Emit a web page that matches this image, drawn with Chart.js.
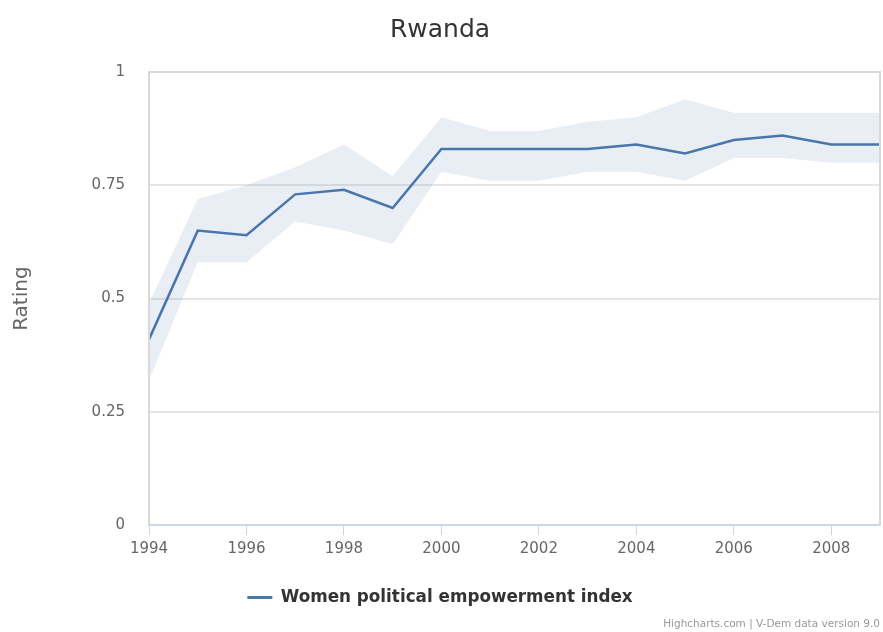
<!DOCTYPE html>
<html lang="en">
<head>
    <meta charset="UTF-8">
    <title>Rwanda - Women political empowerment index</title>
    <script src="https://cdn.jsdelivr.net/npm/chart.js"></script>
    <style>
        html, body {
            margin: 0;
            padding: 0;
            background: #ffffff;
        }
        .wrap {
            position: relative;
            width: 883px;
            height: 632px;
        }
        .credits {
            position: absolute;
            right: 3px;
            bottom: 3px;
            font: 10.5px "DejaVu Sans", sans-serif;
            color: #999999;
        }
    </style>
</head>
<body>
    <div class="wrap">
        <canvas id="chart" width="883" height="632"></canvas>
        <div class="credits">Highcharts.com | V-Dem data version 9.0</div>
    </div>

    <script>
        // Data
        const years = [1994, 1995, 1996, 1997, 1998, 1999, 2000, 2001, 2002, 2003, 2004, 2005, 2006, 2007, 2008, 2009];
        const indexValues = [0.41, 0.65, 0.64, 0.73, 0.74, 0.70, 0.83, 0.83, 0.83, 0.83, 0.84, 0.82, 0.85, 0.86, 0.84, 0.84];
        const upperBound = [0.49, 0.72, 0.75, 0.79, 0.84, 0.77, 0.90, 0.87, 0.87, 0.89, 0.90, 0.94, 0.91, 0.91, 0.91, 0.91];
        const lowerBound = [0.32, 0.58, 0.58, 0.67, 0.65, 0.62, 0.78, 0.76, 0.76, 0.78, 0.78, 0.76, 0.81, 0.81, 0.80, 0.80];
        const xTicks = [1994, 1996, 1998, 2000, 2002, 2004, 2006, 2008];
        const yTicks = [0, 0.25, 0.5, 0.75, 1];
        const yTickLabels = ['0', '0.25', '0.5', '0.75', '1'];

        const lineColor = '#4a77ab';
        const bandColor = 'rgba(74, 120, 171, 0.13)';
        const font = '"DejaVu Sans", sans-serif';

        const toPoints = arr => years.map((yr, i) => ({ x: yr, y: arr[i] }));

        // draws the grey frame around the plot area
        const plotBorder = {
            id: 'plotBorder',
            afterDraw(chart) {
                const { ctx, chartArea: a } = chart;
                ctx.save();
                ctx.strokeStyle = '#d9d9d9';
                ctx.lineWidth = 2;
                ctx.beginPath();
                ctx.moveTo(a.left, a.bottom);
                ctx.lineTo(a.left, a.top);
                ctx.lineTo(a.right, a.top);
                ctx.lineTo(a.right, a.bottom);
                ctx.stroke();
                ctx.restore();
            }
        };

        new Chart(document.getElementById('chart'), {
            type: 'line',
            data: {
                datasets: [
                    {
                        label: 'Women political empowerment index',
                        data: toPoints(indexValues),
                        borderColor: lineColor,
                        backgroundColor: lineColor,
                        borderWidth: 2.5,
                        pointRadius: 0,
                        fill: false,
                        tension: 0
                    },
                    {
                        label: 'upper',
                        data: toPoints(upperBound),
                        borderWidth: 0,
                        pointRadius: 0,
                        backgroundColor: bandColor,
                        fill: '+1'
                    },
                    {
                        label: 'lower',
                        data: toPoints(lowerBound),
                        borderWidth: 0,
                        pointRadius: 0,
                        fill: false
                    }
                ]
            },
            options: {
                responsive: false,
                animation: false,
                layout: {
                    padding: { left: 0, right: 3, top: 0, bottom: 16 }
                },
                scales: {
                    x: {
                        type: 'linear',
                        min: 1994,
                        max: 2009,
                        afterBuildTicks: axis => {
                            axis.ticks = xTicks.map(v => ({ value: v }));
                        },
                        afterFit: axis => {
                            axis.height = 50;
                        },
                        ticks: {
                            callback: v => String(v),
                            color: '#666666',
                            font: { family: font, size: 15 },
                            padding: 5,
                            maxRotation: 0
                        },
                        grid: {
                            drawOnChartArea: false,
                            drawTicks: true,
                            tickLength: 10,
                            color: '#ccd6eb',
                            lineWidth: 1
                        },
                        border: {
                            display: true,
                            color: '#ccd6eb',
                            width: 2
                        }
                    },
                    y: {
                        min: 0,
                        max: 1,
                        afterBuildTicks: axis => {
                            axis.ticks = yTicks.map(v => ({ value: v }));
                        },
                        afterFit: axis => {
                            axis.width = 149;
                        },
                        ticks: {
                            callback: (v, i) => yTickLabels[i],
                            color: '#666666',
                            font: { family: font, size: 15 },
                            padding: 24
                        },
                        grid: {
                            color: '#e6e6e6',
                            lineWidth: 2,
                            drawTicks: false
                        },
                        border: { display: false },
                        title: {
                            display: true,
                            text: 'Rating',
                            color: '#666666',
                            font: { family: font, size: 20 },
                            padding: { top: 10, bottom: 0 }
                        }
                    }
                },
                plugins: {
                    title: {
                        display: true,
                        text: 'Rwanda',
                        color: '#333333',
                        font: { family: font, size: 25, weight: 'normal' },
                        padding: { top: 15, bottom: 27 }
                    },
                    legend: {
                        position: 'bottom',
                        labels: {
                            color: '#333333',
                            font: { family: font, size: 16.8, weight: 'bold' },
                            boxWidth: 25,
                            boxHeight: 3,
                            padding: 14,
                            filter: item => item.datasetIndex === 0,
                            generateLabels: chart => {
                                const items = Chart.defaults.plugins.legend.labels.generateLabels(chart);
                                items.forEach(it => { it.lineWidth = 0; });
                                return items;
                            }
                        }
                    },
                    tooltip: { enabled: false }
                }
            },
            plugins: [plotBorder]
        });
    </script>
</body>
</html>
